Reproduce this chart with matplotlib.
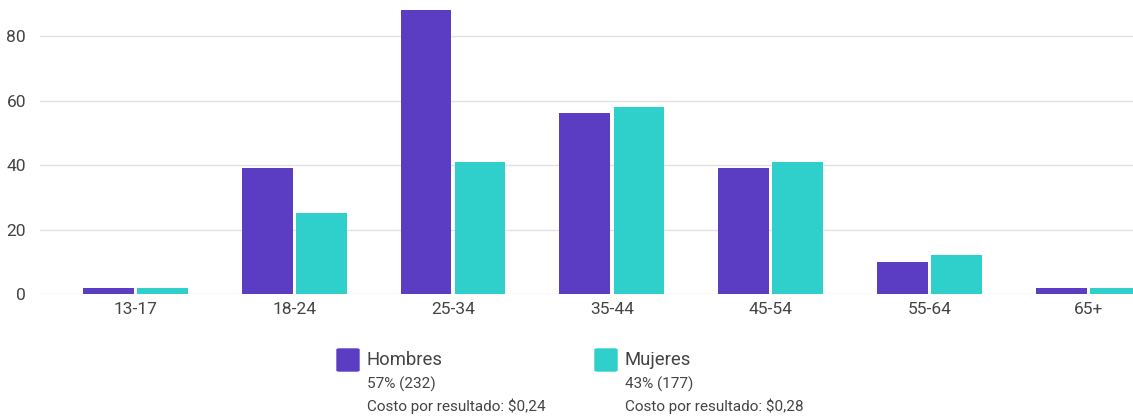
import matplotlib.pyplot as plt
import matplotlib.patches as mpatches
import numpy as np

plt.rcParams['font.family'] = ['Roboto', 'DejaVu Sans']

grupos = ['13-17', '18-24', '25-34', '35-44', '45-54', '55-64', '65+']
hombres = [2, 39, 88, 56, 39, 10, 2]
mujeres = [2, 25, 41, 58, 41, 12, 2]
y_ticks = [0, 20, 40, 60, 80]

leyenda = [
    ('Hombres', '57% (232)', r'Costo por resultado: \$0,24'),
    ('Mujeres', '43% (177)', r'Costo por resultado: \$0,28'),
]

color_h = '#5a3dc2'
color_m = '#2fcfcb'
gris = '#444444'

fig = plt.figure(figsize=(11.33, 4.17), dpi=100)
ax = fig.add_axes([0.0353, 0.295, 0.9647, 0.705])

x = np.arange(len(grupos))
ancho = 0.32
ax.bar(x - 0.17, hombres, width=ancho, color=color_h, zorder=3)
ax.bar(x + 0.17, mujeres, width=ancho, color=color_m, zorder=3)

ax.set_xlim(-0.6, 6.28)
ax.set_ylim(0, 91.2)
ax.set_yticks(y_ticks)
ax.set_xticks(x)
ax.set_xticklabels(grupos)
ax.yaxis.grid(True, color='#e2e2e2', linewidth=1, zorder=0)
ax.set_axisbelow(True)
for s in ax.spines.values():
    s.set_visible(False)
ax.tick_params(axis='both', length=0, labelsize=12.5, labelcolor=gris)
ax.tick_params(axis='y', pad=10)
ax.tick_params(axis='x', pad=6)

# leyenda manual
posiciones = [337, 595]
for (nombre, pct, costo), px, col in zip(leyenda, posiciones, [color_h, color_m]):
    fig.patches.append(mpatches.FancyBboxPatch(
        (px / 1133, 1 - 371 / 417), 22 / 1133, 22 / 417,
        boxstyle='round,pad=0,rounding_size=0.002',
        transform=fig.transFigure, color=col))
    fig.text((px + 30) / 1133, 1 - 360 / 417, nombre, fontsize=13.3,
             color=gris, va='center', ha='left')
    fig.text((px + 30) / 1133, 1 - 384 / 417, pct, fontsize=11,
             color=gris, va='center', ha='left')
    fig.text((px + 30) / 1133, 1 - 406 / 417, costo, fontsize=11,
             color=gris, va='center', ha='left')

fig.savefig('out.png', dpi=100)
